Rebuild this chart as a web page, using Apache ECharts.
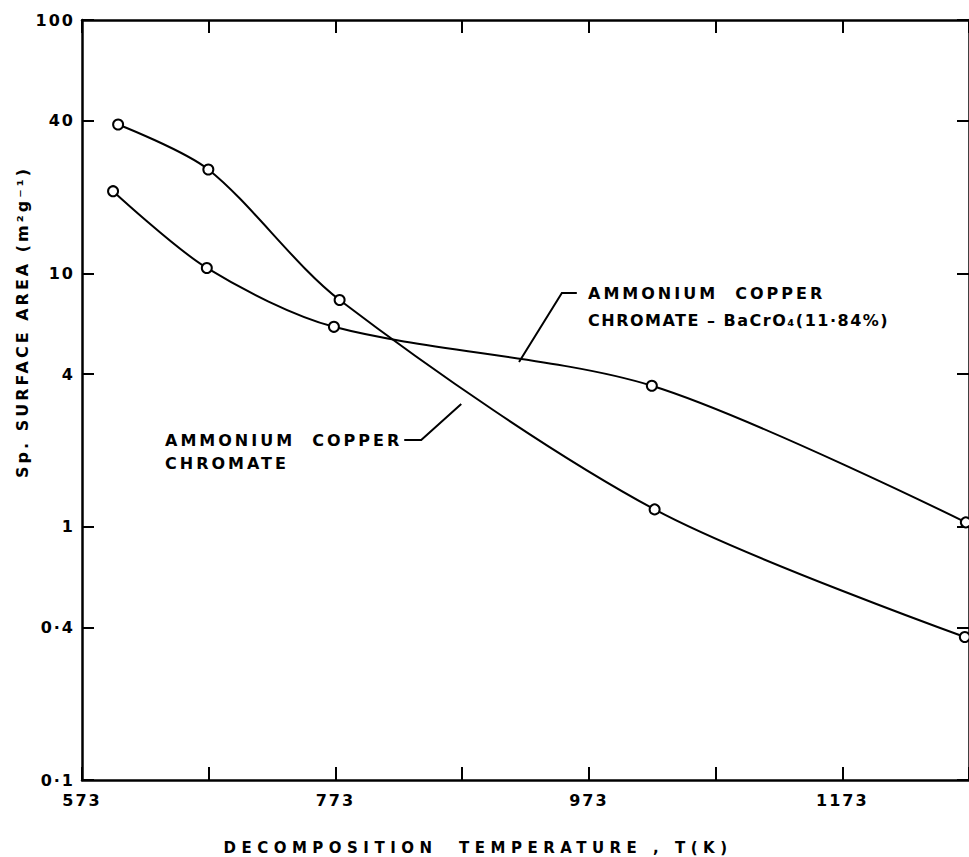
<!DOCTYPE html>
<html><head><meta charset="utf-8">
<script src="https://cdn.jsdelivr.net/npm/echarts@6/dist/echarts.min.js"></script>
<style>html,body{margin:0;padding:0;background:#fff}#c{width:969px;height:857px}</style>
</head><body><div id="c"></div>
<script>
// Data
const tempACC = [601.5, 672.7, 776.3, 1024.9, 1269.7];
const areaACC = [38.7, 25.7, 7.85, 1.17, 0.367];
const tempBa = [597.5, 671.5, 771.8, 1022.7, 1270.5];
const areaBa = [21.1, 10.5, 6.15, 3.60, 1.04];
const xTickValues = [573, 673, 773, 873, 973, 1073, 1173, 1273];
const xLabelValues = [573, 773, 973, 1173];
const yTickValues = [0.1, 0.4, 1, 4, 10, 40, 100];
const nameACC = 'AMMONIUM COPPER CHROMATE';
const nameBa = 'AMMONIUM COPPER CHROMATE - BaCrO4 (11·84%)';
// annotation leader anchors in data coordinates [T, area]
const leaderBa = [[963.5, 8.36], [951.7, 8.36], [917.9, 4.47]];
const leaderACC = [[827.3, 2.20], [840.7, 2.20], [872.3, 3.05]];

const FONT = 'DejaVu Sans';
const chart = echarts.init(document.getElementById('c'), null, {renderer: 'svg'});
const fmtY = v => String(Number(Number(v).toPrecision(3))).replace('.', '·');
const fmtX = v => String(Math.round(v));

function pts(xs, ys) { return xs.map((x, i) => [x, ys[i]]); }

const lineSeries = (name, data) => ({
  name, type: 'line', data, smooth: 0.3, clip: false,
  symbol: 'circle', symbolSize: 10,
  itemStyle: {color: '#fff', borderColor: '#000', borderWidth: 2},
  lineStyle: {color: '#000', width: 2},
  emphasis: {disabled: true}, animation: false
});

const axisCommon = {
  axisLine: {show: true, lineStyle: {color: '#000', width: 2.5}},
  splitLine: {show: false}
};

chart.setOption({
  animation: false,
  backgroundColor: '#fff',
  grid: {left: 82, top: 20, width: 889, height: 760, containLabel: false},
  xAxis: [
    Object.assign({type: 'value', min: 573, max: 1273, position: 'bottom',
      axisTick: {inside: true, length: 13, lineStyle: {color: '#000', width: 2}, customValues: xTickValues},
      axisLabel: {customValues: xLabelValues, formatter: fmtX, margin: 12, color: '#000', fontFamily: FONT, fontWeight: 'bold', fontSize: 16}
    }, axisCommon),
    Object.assign({type: 'value', min: 573, max: 1273, position: 'top',
      axisTick: {inside: true, length: 13, lineStyle: {color: '#000', width: 2}, customValues: xTickValues},
      axisLabel: {show: false}
    }, axisCommon)
  ],
  yAxis: [
    Object.assign({type: 'log', logBase: 10, min: 0.1, max: 100, position: 'left',
      axisTick: {inside: true, length: 12, lineStyle: {color: '#000', width: 2}, customValues: yTickValues},
      axisLabel: {customValues: yTickValues, formatter: fmtY, margin: 7, color: '#000', fontFamily: FONT, fontWeight: 'bold', fontSize: 16}
    }, axisCommon),
    Object.assign({type: 'log', logBase: 10, min: 0.1, max: 100, position: 'right',
      axisTick: {inside: true, length: 12, lineStyle: {color: '#000', width: 2}, customValues: yTickValues},
      axisLabel: {show: false}
    }, axisCommon)
  ],
  series: [
    lineSeries(nameACC, pts(tempACC, areaACC)),
    lineSeries(nameBa, pts(tempBa, areaBa))
  ]
});

function toPx(p) { return chart.convertToPixel({xAxisIndex: 0, yAxisIndex: 0}, p); }
const txt = (x, y, text, extra) => ({
  type: 'text', x, y, silent: true,
  style: Object.assign({text, fill: '#000', font: 'bold 16px "DejaVu Sans"', align: 'left', verticalAlign: 'middle'}, extra || {})
});

chart.setOption({
  graphic: [
    {type: 'polyline', silent: true, shape: {points: leaderBa.map(toPx)}, style: {stroke: '#000', lineWidth: 2, fill: null}},
    {type: 'polyline', silent: true, shape: {points: leaderACC.map(toPx)}, style: {stroke: '#000', lineWidth: 2, fill: null}},
    txt(588, 293, 'AMMONIUM  COPPER'),
    txt(588, 320, 'CHROMATE – BaCrO₄(11·84%)'),
    txt(165, 440, 'AMMONIUM  COPPER'),
    txt(165, 463, 'CHROMATE'),
    txt(478, 848, 'DECOMPOSITION  TEMPERATURE , T(K)', {align: 'center', font: 'bold 15px "DejaVu Sans"'}),
    {type: 'text', x: 22, y: 322, rotation: Math.PI / 2, silent: true,
      style: {text: 'Sp. SURFACE AREA (m²g⁻¹)', fill: '#000', font: 'bold 16px "DejaVu Sans"', align: 'center', verticalAlign: 'middle'}}
  ]
});

function spacing() {
  document.querySelectorAll('#c text').forEach(t => {
    const s = t.textContent;
    let ls = '3px';
    if (s.indexOf('DECOMPOSITION') >= 0) ls = '5.5px';
    else if (s.indexOf('Sp.') === 0) ls = '3px';
    else if (s.indexOf('BaCrO') >= 0) ls = '1.5px';
    else if (/^[0-9·]+$/.test(s)) ls = '2px';
    t.style.letterSpacing = ls;
  });
}
chart.on('finished', spacing);
setTimeout(spacing, 50);
setTimeout(spacing, 300);
</script>
</body></html>
